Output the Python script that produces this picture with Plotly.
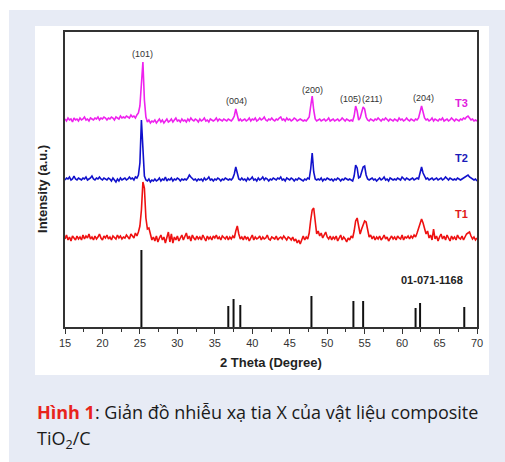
import numpy as np
import plotly.graph_objects as go

# 2-theta scan grid (degrees), 0.2 degree step
two_theta = np.round(np.arange(15.0, 70.0001, 0.2), 1)

# Measured intensities (a.u.), one row = 2 degrees
t3_counts = [
    11, 9, 12, 10, 11, 8, 12, 10, 11, 9,
    12, 10, 11, 13, 10, 11, 9, 12, 11, 10,
    12, 11, 13, 10, 12, 11, 13, 12, 10, 12,
    11, 13, 12, 10, 13, 12, 11, 14, 12, 13,
    12, 14, 13, 12, 15, 13, 14, 12, 15, 17,
    24, 48, 68, 30, 13, 8, 10, 7, 9, 8,
    10, 7, 9, 11, 8, 10, 7, 9, 11, 8,
    9, 11, 8, 10, 12, 9, 10, 8, 11, 9,
    10, 8, 11, 9, 12, 10, 9, 11, 10, 8,
    11, 9, 10, 12, 9, 10, 8, 11, 10, 9,
    10, 12, 9, 11, 10, 9, 11, 10, 9, 11,
    10, 9, 11, 14, 21, 13, 9, 11, 9, 10,
    11, 9, 10, 12, 9, 11, 10, 12, 9, 10,
    12, 10, 11, 13, 10, 9, 11, 10, 12, 10,
    9, 11, 10, 12, 13, 10, 11, 9, 12, 10,
    11, 9, 10, 12, 11, 9, 10, 11, 10, 9,
    10, 9, 11, 13, 24, 34, 20, 11, 9, 10,
    11, 9, 10, 11, 9, 10, 12, 9, 10, 11,
    9, 10, 11, 9, 10, 12, 10, 9, 11, 10,
    9, 10, 9, 14, 24, 19, 10, 12, 17, 23,
    21, 13, 10, 9, 11, 10, 9, 11, 10, 12,
    10, 9, 11, 10, 12, 10, 9, 11, 10, 9,
    11, 10, 9, 12, 10, 11, 9, 10, 12, 10,
    9, 11, 10, 9, 11, 10, 12, 17, 24, 18,
    12, 10, 11, 9, 10, 12, 9, 11, 10, 9,
    11, 10, 12, 9, 10, 11, 9, 10, 12, 10,
    9, 11, 10, 9, 11, 10, 12, 11, 13, 14,
    12, 10, 11, 9, 10, 9,
]

t2_counts = [
    9, 11, 10, 12, 9, 10, 13, 10, 9, 11,
    10, 9, 11, 10, 12, 9, 10, 11, 13, 10,
    9, 11, 10, 12, 10, 9, 11, 10, 9, 11,
    10, 8, 11, 9, 7, 10, 8, 11, 9, 10,
    11, 9, 10, 12, 10, 11, 9, 12, 11, 14,
    26, 69, 38, 13, 9, 8, 10, 7, 9, 8,
    10, 8, 9, 11, 8, 10, 9, 12, 8, 10,
    9, 11, 8, 10, 9, 11, 10, 8, 10, 9,
    10, 9, 11, 14, 12, 10, 9, 10, 8, 10,
    9, 10, 8, 11, 9, 10, 12, 9, 10, 8,
    10, 9, 11, 10, 8, 10, 9, 11, 10, 9,
    10, 9, 11, 15, 22, 14, 10, 9, 11, 9,
    10, 8, 11, 9, 10, 12, 9, 10, 8, 11,
    9, 10, 12, 9, 11, 10, 8, 10, 9, 11,
    10, 9, 11, 10, 12, 9, 10, 8, 11, 10,
    9, 11, 10, 8, 10, 9, 11, 10, 9, 8,
    10, 9, 11, 10, 20, 36, 17, 10, 9, 10,
    9, 11, 8, 10, 9, 11, 10, 9, 10, 8,
    10, 9, 11, 10, 8, 10, 9, 11, 10, 9,
    10, 9, 8, 13, 24, 21, 11, 12, 16, 22,
    23, 14, 10, 9, 10, 11, 9, 10, 8, 10,
    11, 9, 10, 12, 9, 10, 8, 11, 10, 9,
    10, 9, 11, 10, 9, 12, 10, 9, 11, 10,
    9, 10, 11, 9, 10, 11, 10, 15, 22, 16,
    12, 10, 11, 9, 10, 11, 9, 10, 11, 9,
    10, 11, 9, 10, 12, 10, 9, 11, 10, 9,
    10, 9, 11, 10, 9, 10, 11, 12, 13, 14,
    12, 11, 10, 9, 10, 8,
]

t1_counts = [
    9, 13, 8, 11, 7, 12, 10, 8, 12, 9,
    11, 8, 13, 9, 12, 10, 14, 9, 11, 8,
    12, 9, 11, 14, 10, 8, 12, 10, 13, 9,
    11, 8, 12, 10, 9, 13, 10, 12, 9, 11,
    10, 13, 11, 9, 14, 12, 10, 15, 12, 16,
    22, 38, 66, 60, 30, 19, 20, 14, 8, 11,
    7, 12, 6, 10, 13, 8, 11, 5, 12, 16,
    6, 14, 5, 11, 8, 12, 7, 10, 13, 8,
    11, 15, 9, 12, 7, 13, 10, 8, 12, 9,
    11, 8, 13, 10, 7, 12, 9, 11, 8, 12,
    10, 13, 9, 11, 8, 12, 10, 9, 12, 8,
    11, 9, 12, 10, 17, 22, 14, 9, 11, 8,
    12, 9, 11, 7, 10, 13, 8, 11, 9, 10,
    12, 8, 11, 9, 10, 13, 9, 8, 11, 10,
    9, 12, 8, 10, 11, 9, 12, 10, 8, 11,
    10, 8, 11, 7, 9, 5, 8, 4, 9, 12,
    8, 11, 9, 15, 28, 38, 40, 24, 14, 17,
    12, 15, 10, 13, 16, 11, 9, 12, 8, 11,
    9, 12, 7, 10, 13, 8, 11, 9, 6, 10,
    8, 12, 10, 17, 27, 30, 20, 14, 19, 24,
    27, 26, 17, 11, 13, 9, 12, 8, 11, 9,
    12, 8, 10, 13, 9, 11, 7, 10, 12, 9,
    11, 8, 12, 10, 9, 13, 8, 11, 10, 12,
    9, 12, 10, 13, 11, 15, 19, 24, 29, 25,
    20, 14, 17, 10, 13, 8, 19, 9, 12, 7,
    11, 14, 9, 12, 8, 13, 10, 7, 12, 9,
    11, 8, 13, 10, 9, 12, 8, 11, 14, 15,
    16, 12, 9, 11, 8, 10,
]

# Reference pattern JCPDS 01-071-1168 (anatase TiO2)
ref_positions = [25.2, 36.8, 37.5, 38.4, 47.9, 53.5, 54.8, 61.8, 62.4, 68.3]
ref_heights = [77, 21, 28, 22, 31, 26, 26, 19, 24, 20]

# Miller indices of the labelled reflections
hkl_labels = ["(101)", "(004)", "(200)", "(105)", "(211)", "(204)"]
hkl_positions = [25.37, 37.83, 48.0, 53.1, 56.0, 62.8]

sample_names = ["T1", "T2", "T3"]
sample_colors = ["#EE1111", "#1010CC", "#EE22EE"]
label_colors = ["#E01A1A", "#1A1AB8", "#E020DC"]
stack_offsets = [79, 138, 197]

fig = go.Figure()

for name, counts, color, off in zip(sample_names, [t1_counts, t2_counts, t3_counts],
                                    sample_colors, stack_offsets):
    fig.add_trace(go.Scatter(
        x=two_theta, y=np.array(counts) + off, mode="lines", name=name,
        line=dict(color=color, width=1.6), showlegend=False,
    ))

# reference sticks
sx, sy = [], []
for p, h in zip(ref_positions, ref_heights):
    sx += [p, p, None]
    sy += [0, h, None]
fig.add_trace(go.Scatter(x=sx, y=sy, mode="lines",
                         line=dict(color="#111111", width=2), showlegend=False))

FONT = "Arial, Liberation Sans"
annos = []
hkl_y = [273, 226, 237, 228, 228, 229]
for lab, xp, yp in zip(hkl_labels, hkl_positions, hkl_y):
    annos.append(dict(x=xp, y=yp, xref="x", yref="y", text=lab, showarrow=False,
                      font=dict(family=FONT, size=9, color="#333333")))

name_y = [113, 169, 224]
for name, col, yp in zip(sample_names, label_colors, name_y):
    annos.append(dict(x=67.95, y=yp, xref="x", yref="y", text="<b>%s</b>" % name,
                      showarrow=False, font=dict(family=FONT, size=11, color=col)))

annos.append(dict(x=63.95, y=47, xref="x", yref="y", text="<b>01-071-1168</b>",
                  showarrow=False, font=dict(family=FONT, size=11, color="#222222")))

# axis titles
annos.append(dict(x=-0.0534, y=0.468, xref="paper", yref="paper",
                  xanchor="center", yanchor="middle",
                  text="<b>Intensity (a.u.)</b>", textangle=-90, showarrow=False,
                  font=dict(family=FONT, size=13, color="#222222")))
annos.append(dict(x=0.5, y=-0.122, xref="paper", yref="paper",
                  xanchor="center", yanchor="middle",
                  text="<b>2 Theta (Degree)</b>", showarrow=False,
                  font=dict(family=FONT, size=13, color="#222222")))

# figure caption
annos.append(dict(x=-0.0728, y=-0.288, xref="paper", yref="paper", xanchor="left",
                  yanchor="middle", showarrow=False, align="left",
                  text="<b><span style='color:#E8241C'>Hình 1</span></b>: Giản đồ nhiễu xạ tia X của vật liệu composite",
                  font=dict(family="Open Sans", size=18, color="#1A1A1A")))
annos.append(dict(x=-0.0728, y=-0.383, xref="paper", yref="paper", xanchor="left",
                  yanchor="middle", showarrow=False, align="left",
                  text="TiO<sub>2</sub>/C",
                  font=dict(family="Open Sans", size=18, color="#1A1A1A")))

shapes = [
    dict(type="rect", xref="paper", yref="paper", x0=-0.1359, x1=1.1, y0=-0.5, y1=1.0746,
         fillcolor="#E7EBF5", line=dict(width=0), layer="below"),
    dict(type="rect", xref="paper", yref="paper", x0=-0.0728, x1=1.0291, y0=-0.1627, y1=1.0203,
         fillcolor="#FFFFFF", line=dict(width=0), layer="below"),
]

fig.update_layout(
    width=505, height=462,
    margin=dict(l=65, r=28, t=32, b=135),
    paper_bgcolor="#FFFFFF", plot_bgcolor="rgba(0,0,0,0)",
    annotations=annos, shapes=shapes, showlegend=False,
)
fig.update_xaxes(
    range=[15, 70], tick0=15, dtick=5, ticks="outside", ticklen=5, tickwidth=1.2,
    tickcolor="#333333", showline=True, linecolor="#333333", linewidth=1.5, mirror=True,
    showgrid=False, zeroline=False,
    tickfont=dict(family=FONT, size=11, color="#333333"),
    minor=dict(dtick=2.5, ticks="outside", ticklen=3, tickcolor="#333333", tickwidth=1),
)
fig.update_yaxes(
    range=[0, 295], showticklabels=False, ticks="", showline=True, linecolor="#333333",
    linewidth=1.5, mirror=True, showgrid=False, zeroline=False,
)

fig.write_html("out.html")
